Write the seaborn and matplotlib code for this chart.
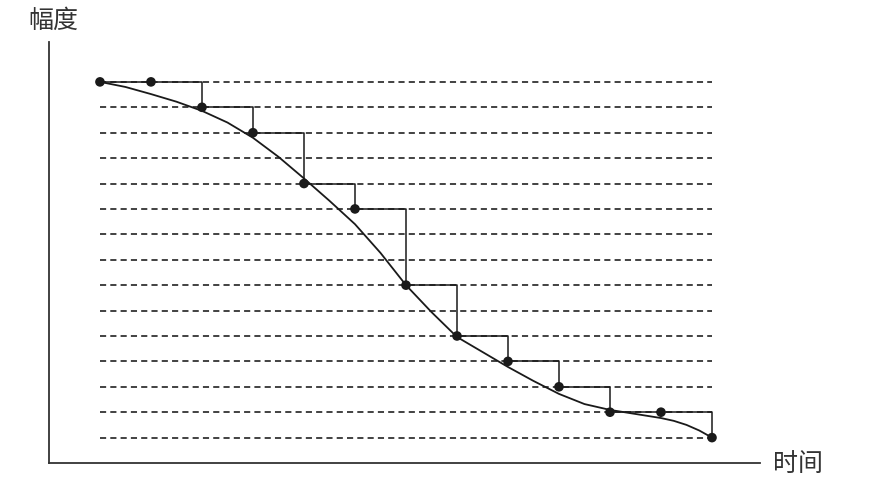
import numpy as np
import pandas as pd
import matplotlib
matplotlib.use("Agg")
import matplotlib.pyplot as plt
import seaborn as sns

# quantization levels (dashed lines) and sampled points
levels = list(range(0, 15))
sample_t = [0, 1, 2, 3, 4, 5, 6, 7, 8, 9, 10, 11, 12]
sample_v = [14, 14, 13, 12, 10, 9, 6, 4, 3, 2, 1, 1, 0]

# continuous signal
curve_t = [0, 0.5, 1, 1.5, 2, 2.5, 3, 3.5, 4, 4.5, 5, 5.5, 6, 6.5, 7, 7.5,
           8, 8.5, 9, 9.5, 10, 10.5, 11, 11.25, 11.5, 11.75, 12]
curve_v = [14.0, 13.8, 13.52, 13.22, 12.86, 12.4, 11.8, 11.05, 10.2, 9.32,
           8.4, 7.27, 6.0, 4.94, 3.96, 3.37, 2.78, 2.23, 1.72, 1.32, 1.09,
           0.93, 0.77, 0.66, 0.5, 0.28, 0.0]

samples = pd.DataFrame({"t": sample_t, "v": sample_v})
curve = pd.DataFrame({"t": curve_t, "v": curve_v})

sns.set_style("white")
plt.rcParams["font.family"] = ["Noto Sans CJK SC", "DejaVu Sans"]

fig = plt.figure(figsize=(8.76, 4.86), dpi=100)
ax = fig.add_axes([0.0559, 0.0473, 0.8116, 0.8663])

ax.hlines(levels, 0, 12, colors="#333333", linestyles=(0, (3.4, 2.3)), linewidth=1.3, zorder=1)
sns.lineplot(data=samples, x="t", y="v", drawstyle="steps-post", color="#1a1a1a",
             linewidth=1.1, ax=ax, zorder=2)
sns.lineplot(data=curve, x="t", y="v", color="#1a1a1a", linewidth=1.3, ax=ax, zorder=3)
sns.scatterplot(data=samples, x="t", y="v", color="#1a1a1a", s=48, edgecolor="none",
                ax=ax, zorder=4)

ax.set_xlim(-1.0, 12.94)
ax.set_ylim(-1.0, 15.57)
ax.set_xticks([])
ax.set_yticks([])
ax.set_xlabel("")
ax.set_ylabel("")
sns.despine(ax=ax)
for s in ["left", "bottom"]:
    ax.spines[s].set_color("#333333")
    ax.spines[s].set_linewidth(1.3)

fig.text(53 / 876, 1 - 21 / 486, "幅度", fontsize=18, fontweight="light",
         ha="center", va="center", color="#333333")
fig.text(798 / 876, 1 - 464 / 486, "时间", fontsize=18, fontweight="light",
         ha="center", va="center", color="#333333")

fig.savefig("out.png", dpi=100)
